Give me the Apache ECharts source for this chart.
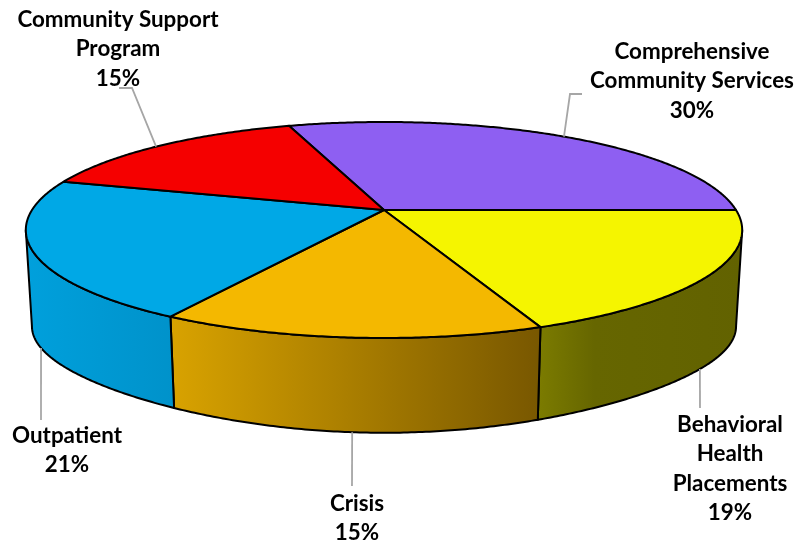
<!DOCTYPE html>
<html>
<head>
<meta charset="utf-8">
<style>html,body{margin:0;padding:0;background:#fff}#c{width:797px;height:547px}</style>
<script src="https://cdn.jsdelivr.net/npm/echarts@6/dist/echarts.min.js"></script>
</head>
<body>
<div id="c"></div>
<script>
// Data
const categories = ['Comprehensive\nCommunity Services', 'Behavioral\nHealth\nPlacements', 'Crisis', 'Outpatient', 'Community Support\nProgram'];
const shares = [30.14, 19, 14.52, 21.08, 15.26];

// Colours
const topColors = ['#8e5ff2', '#f5f500', '#f4b800', '#00a8e6', '#f50000'];
const sideStops = [
  null,
  [[0, '#7c7c00'], [0.28, '#666600'], [1, '#626200']],
  [[0, '#d9a300'], [1, '#785700']],
  [[0, '#00a0dc'], [1, '#0092ca']],
  null
];

// Layout (projection of the disc, leader bends and label anchors)
const START_ANGLE = -18.5;
const TOP_RING = { cx: 384, cy: 210, r: 352, a: 104.3, pinch: 0 };
const BOTTOM_RING = { cx: 384, cy: 307, r: 346, a: 102.5, pinch: 5 };
const PERSPECTIVE = 0.185;
const labelLayouts = [
  { x: 692, y: 37, anchorX: 564, bend: [[570, 94], [582, 94]] },
  { x: 730, y: 410, anchorX: 700, bend: [[700, 408]] },
  { x: 357, y: 489, anchorX: 352, bend: [[352, 486]] },
  { x: 67, y: 421, anchorX: 41, bend: [[41, 420]] },
  { x: 118, y: 5, anchorX: 156, bend: [[132, 88], [119, 88]] }
];

const DEG = Math.PI / 180;
function project(ring, deg) {
  const t = deg * DEG, s = Math.sin(t), c = Math.cos(t);
  const w = 1 + PERSPECTIVE * c;
  const d = Math.sin(2 * t);
  return [ring.cx + ring.r * s / w, ring.cy - ring.a * c / w - ring.pinch * d * d];
}
function arc(ring, from, to) {
  const pts = [];
  const n = Math.max(2, Math.ceil(Math.abs(to - from) * 2));
  for (let i = 0; i <= n; i++) pts.push(project(ring, from + (to - from) * i / n));
  return pts;
}
const total = shares.reduce((a, b) => a + b, 0);
const ranges = [];
shares.reduce((acc, v) => { const e = acc + v / total * 360; ranges.push([acc, e]); return e; }, START_ANGLE);
const tangent = Math.acos(-PERSPECTIVE) / DEG;
const visible = [tangent, 360 - tangent];

// The point of a slice's outer rim that lies nearest to a given x
function rimPoint(i, x) {
  const r = ranges[i];
  let best = null, bestGap = Infinity;
  for (let d = r[0]; d <= r[1]; d += 0.1) {
    const front = d > visible[0] && d < visible[1];
    const p = project(front ? BOTTOM_RING : TOP_RING, d);
    const gap = Math.abs(p[0] - x);
    if (gap < bestGap) { bestGap = gap; best = p; }
  }
  return best;
}

const chart = echarts.init(document.getElementById('c'), null, { renderer: 'canvas' });
const rows = shares.map((v, i) => [i, v]);

function renderSide(params, api) {
  const i = api.value(0), r = ranges[i];
  const from = Math.max(r[0], visible[0]), to = Math.min(r[1], visible[1]);
  if (to <= from || !sideStops[i]) return null;
  const points = arc(TOP_RING, from, to).concat(arc(BOTTOM_RING, to, from));
  return {
    type: 'polygon', shape: { points },
    style: {
      fill: new echarts.graphic.LinearGradient(0, 0, 1, 0, sideStops[i].map(s => ({ offset: s[0], color: s[1] }))),
      stroke: '#000', lineWidth: 2, lineJoin: 'round'
    }
  };
}
function renderTop(params, api) {
  const i = api.value(0), r = ranges[i];
  const points = [[TOP_RING.cx, TOP_RING.cy]].concat(arc(TOP_RING, r[0], r[1]));
  return {
    type: 'polygon', shape: { points },
    style: { fill: topColors[i], stroke: '#000', lineWidth: 2, lineJoin: 'round' }
  };
}
function renderLabel(params, api) {
  const i = api.value(0), lay = labelLayouts[i];
  const start = rimPoint(i, lay.anchorX);
  return {
    type: 'group',
    children: [
      { type: 'polyline', shape: { points: [start].concat(lay.bend) },
        style: { fill: 'none', stroke: '#a6a6a6', lineWidth: 1.8 } },
      { type: 'text', x: lay.x, y: lay.y,
        style: {
          text: categories[i] + '\n' + Math.round(api.value(1) / total * 100) + '%',
          fill: '#000', font: 'bold 22.4px Lato', lineHeight: 29.5,
          align: 'center', verticalAlign: 'top'
        } }
    ]
  };
}
chart.setOption({
  animation: false,
  backgroundColor: '#fff',
  series: [
    { type: 'custom', name: 'sides', coordinateSystem: 'none', z: 1, silent: true, data: rows, renderItem: renderSide },
    { type: 'custom', name: 'tops', coordinateSystem: 'none', z: 2, silent: true, data: rows, renderItem: renderTop },
    { type: 'custom', name: 'labels', coordinateSystem: 'none', z: 3, silent: true, data: rows, renderItem: renderLabel }
  ]
});
</script>
</body>
</html>
